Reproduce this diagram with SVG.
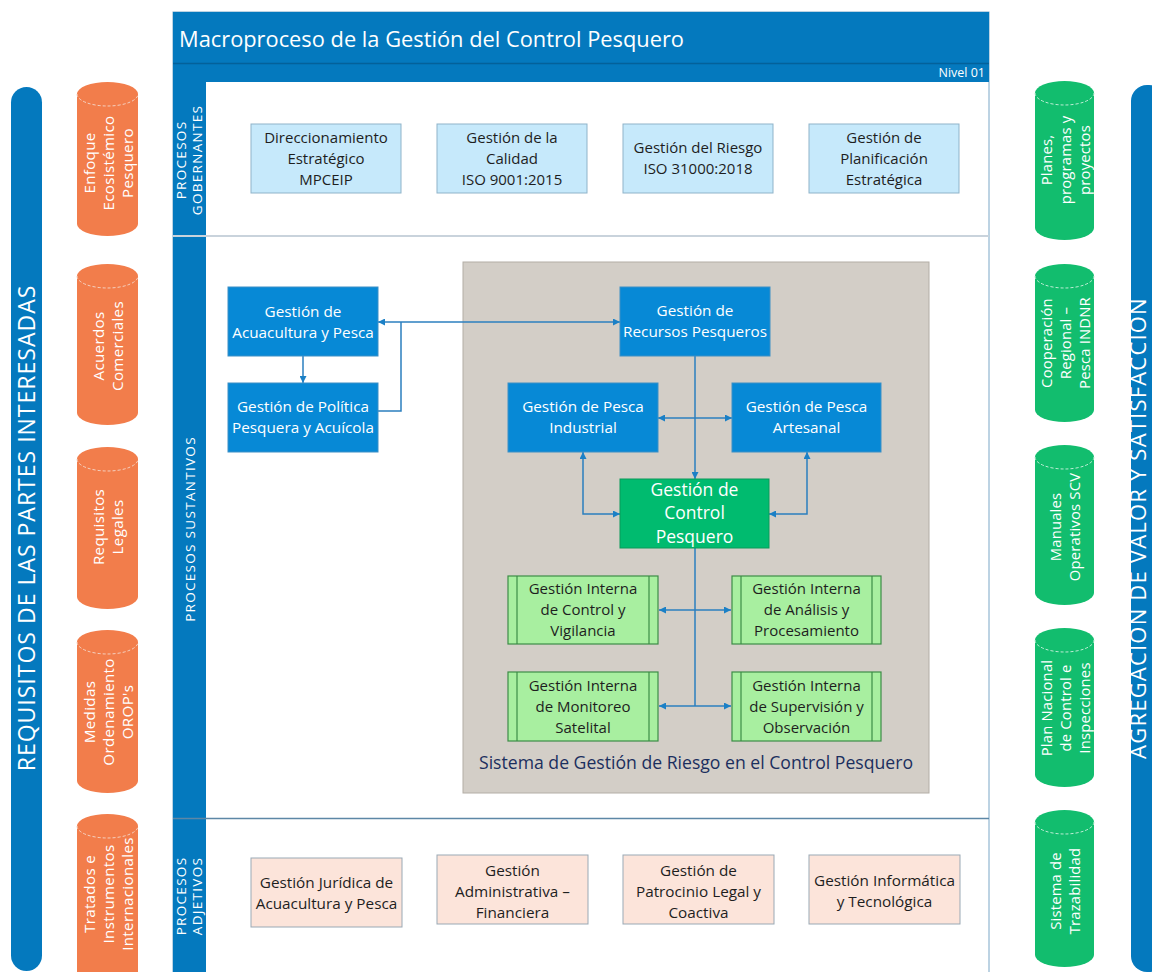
<svg xmlns="http://www.w3.org/2000/svg" width="1152" height="972" viewBox="0 0 1152 972">
<style>
text{font-family:"Open Sans","Noto Sans","DejaVu Sans",sans-serif}
.w{fill:#fff}
.d{fill:#1e1e1e}
.t15{font-size:15px}
.tb{font-size:15.3px}
.mid{text-anchor:middle}
.lc{font-size:15.2px;letter-spacing:0.3px}
.rc{font-size:14.8px;letter-spacing:0.2px}
.band{fill:#0479BE}
.ocyl{fill:#F27D4B}
.gcyl{fill:#12BD6E}
.cdash{fill:none;stroke:#f5d2c2;stroke-width:1;stroke-dasharray:3 2}
.gdash{fill:none;stroke:#bfeed6;stroke-width:1;stroke-dasharray:3 2}
.gov{fill:#C6E9FB;stroke:#8fb3c9;stroke-width:1}
.adj{fill:#FCE4DA;stroke:#9aa9b5;stroke-width:1}
.blue{fill:#0789D6;stroke:#3d8fc6;stroke-width:1}
.green{fill:#00BB6F;stroke:#0a9a5a;stroke-width:1}
.sub{fill:#A8EFA0;stroke:#3C8C46;stroke-width:1.2}
.subl{stroke:#3C8C46;stroke-width:1.2}
.con{fill:none;stroke:#2B7FBF;stroke-width:1.5}
.stripe{font-size:13.5px;fill:#fff;letter-spacing:1.3px;text-anchor:middle}
</style>
<defs>
<marker id="ah" viewBox="0 0 10 10" refX="10" refY="5" markerWidth="7" markerHeight="7" orient="auto-start-reverse" markerUnits="userSpaceOnUse">
<path d="M0,0 L10,5 L0,10 Z" fill="#1B80C6"/>
</marker>
</defs>
<rect width="1152" height="972" fill="#fff"/>

<!-- left and right bands -->
<g id="left-band">
<rect x="11" y="87" width="31" height="884" rx="15.5" class="band"/>
<text transform="translate(35,528) rotate(-90)" class="w mid" font-size="23" letter-spacing="1">REQUISITOS DE LAS PARTES INTERESADAS</text>
</g>
<g id="right-band">
<rect x="1131" y="85" width="34" height="887" rx="16" class="band"/>
<text transform="translate(1146,528) rotate(-90)" class="w mid" font-size="22" letter-spacing="1.2">AGREGACIÓN DE VALOR Y SATISFACCIÓN</text>
</g>

<!-- left cylinders -->
<g id="cyl-l1">
<path d="M77,94 A30.5,12 0 0 1 138,94 L138,224 A30.5,12 0 0 1 77,224 Z" class="ocyl"/>
<path d="M77,94 A30.5,12 0 0 0 138,94" class="cdash"/>
<text transform="translate(107.5,163) rotate(-90)" class="w mid lc"><tspan x="0" y="-13">Enfoque</tspan><tspan x="0" y="6">Ecosistémico</tspan><tspan x="0" y="25">Pesquero</tspan></text>
</g>
<g id="cyl-l2">
<path d="M77,276 A30.5,12 0 0 1 138,276 L138,413 A30.5,12 0 0 1 77,413 Z" class="ocyl"/>
<path d="M77,276 A30.5,12 0 0 0 138,276" class="cdash"/>
<text transform="translate(107.5,346) rotate(-90)" class="w mid lc"><tspan x="0" y="-4">Acuerdos</tspan><tspan x="0" y="15">Comerciales</tspan></text>
</g>
<g id="cyl-l3">
<path d="M77,459 A30.5,12 0 0 1 138,459 L138,597 A30.5,12 0 0 1 77,597 Z" class="ocyl"/>
<path d="M77,459 A30.5,12 0 0 0 138,459" class="cdash"/>
<text transform="translate(107.5,527) rotate(-90)" class="w mid lc"><tspan x="0" y="-4">Requisitos</tspan><tspan x="0" y="15">Legales</tspan></text>
</g>
<g id="cyl-l4">
<path d="M77,642 A30.5,12 0 0 1 138,642 L138,781 A30.5,12 0 0 1 77,781 Z" class="ocyl"/>
<path d="M77,642 A30.5,12 0 0 0 138,642" class="cdash"/>
<text transform="translate(107.5,712) rotate(-90)" class="w mid lc"><tspan x="0" y="-13">Medidas</tspan><tspan x="0" y="6">Ordenamiento</tspan><tspan x="0" y="25">OROP's</tspan></text>
</g>
<g id="cyl-l5">
<path d="M77,826 A30.5,12 0 0 1 138,826 L138,972 L77,972 Z" class="ocyl"/>
<path d="M77,826 A30.5,12 0 0 0 138,826" class="cdash"/>
<text transform="translate(107.5,894) rotate(-90)" class="w mid lc"><tspan x="0" y="-13">Tratados e</tspan><tspan x="0" y="6">Instrumentos</tspan><tspan x="0" y="25">Internacionales</tspan></text>
</g>

<!-- right cylinders -->
<g id="cyl-r1">
<path d="M1035,93 A29.5,12 0 0 1 1094,93 L1094,228 A29.5,12 0 0 1 1035,228 Z" class="gcyl"/>
<path d="M1035,93 A29.5,12 0 0 0 1094,93" class="gdash"/>
<text transform="translate(1064.5,160) rotate(-90)" class="w mid rc"><tspan x="0" y="-13">Planes,</tspan><tspan x="0" y="6">programas y</tspan><tspan x="0" y="25">proyectos</tspan></text>
</g>
<g id="cyl-r2">
<path d="M1035,276 A29.5,12 0 0 1 1094,276 L1094,410 A29.5,12 0 0 1 1035,410 Z" class="gcyl"/>
<path d="M1035,276 A29.5,12 0 0 0 1094,276" class="gdash"/>
<text transform="translate(1064.5,343) rotate(-90)" class="w mid rc"><tspan x="0" y="-13">Cooperación</tspan><tspan x="0" y="6">Regional –</tspan><tspan x="0" y="25">Pesca INDNR</tspan></text>
</g>
<g id="cyl-r3">
<path d="M1035,457 A29.5,12 0 0 1 1094,457 L1094,593 A29.5,12 0 0 1 1035,593 Z" class="gcyl"/>
<path d="M1035,457 A29.5,12 0 0 0 1094,457" class="gdash"/>
<text transform="translate(1064.5,527) rotate(-90)" class="w mid rc"><tspan x="0" y="-4">Manuales</tspan><tspan x="0" y="15">Operativos SCV</tspan></text>
</g>
<g id="cyl-r4">
<path d="M1035,640 A29.5,12 0 0 1 1094,640 L1094,775 A29.5,12 0 0 1 1035,775 Z" class="gcyl"/>
<path d="M1035,640 A29.5,12 0 0 0 1094,640" class="gdash"/>
<text transform="translate(1064.5,708) rotate(-90)" class="w mid rc"><tspan x="0" y="-13">Plan Nacional</tspan><tspan x="0" y="6">de Control e</tspan><tspan x="0" y="25">Inspecciones</tspan></text>
</g>
<g id="cyl-r5">
<path d="M1035,822 A29.5,12 0 0 1 1094,822 L1094,955 A29.5,12 0 0 1 1035,955 Z" class="gcyl"/>
<path d="M1035,822 A29.5,12 0 0 0 1094,822" class="gdash"/>
<text transform="translate(1064.5,891) rotate(-90)" class="w mid rc"><tspan x="0" y="-4">Sistema de</tspan><tspan x="0" y="15">Trazabilidad</tspan></text>
</g>

<!-- main frame -->
<g id="frame">
<rect x="173" y="12" width="816" height="962" fill="#fff" stroke="#7aa7c7" stroke-width="1"/>
<rect x="173" y="12" width="816" height="70" class="band"/>
<line x1="173" y1="63.5" x2="989" y2="63.5" stroke="#03619a" stroke-width="1.5"/>
<text x="179" y="47" class="w" font-size="22" textLength="505" lengthAdjust="spacingAndGlyphs">Macroproceso de la Gestión del Control Pesquero</text>
<text x="985" y="77" class="w" font-size="12.5" text-anchor="end">Nivel  01</text>
<rect x="173" y="82" width="33" height="890" class="band"/>
<line x1="173" y1="236" x2="989" y2="236" stroke="#c9d3dc" stroke-width="2"/>
<line x1="173" y1="818.5" x2="989" y2="818.5" stroke="#5d87a6" stroke-width="1.5"/>
<text transform="translate(186,160) rotate(-90)" class="stripe">PROCESOS</text>
<text transform="translate(202,160) rotate(-90)" class="stripe">GOBERNANTES</text>
<text transform="translate(195,529) rotate(-90)" class="stripe">PROCESOS SUSTANTIVOS</text>
<text transform="translate(186,896) rotate(-90)" class="stripe">PROCESOS</text>
<text transform="translate(202,896) rotate(-90)" class="stripe">ADJETIVOS</text>
</g>

<!-- governing -->
<g id="gov1"><rect x="251" y="124" width="150" height="69" class="gov"/>
<text class="d t15 mid"><tspan x="326" y="143">Direccionamiento</tspan><tspan x="326" y="164">Estratégico</tspan><tspan x="326" y="185">MPCEIP</tspan></text></g>
<g id="gov2"><rect x="437" y="124" width="150" height="69" class="gov"/>
<text class="d t15 mid"><tspan x="512" y="143">Gestión de la</tspan><tspan x="512" y="164">Calidad</tspan><tspan x="512" y="185">ISO 9001:2015</tspan></text></g>
<g id="gov3"><rect x="623" y="124" width="150" height="69" class="gov"/>
<text class="d t15 mid"><tspan x="698" y="153">Gestión del Riesgo</tspan><tspan x="698" y="174">ISO 31000:2018</tspan></text></g>
<g id="gov4"><rect x="809" y="124" width="150" height="69" class="gov"/>
<text class="d t15 mid"><tspan x="884" y="143">Gestión de</tspan><tspan x="884" y="164">Planificación</tspan><tspan x="884" y="185">Estratégica</tspan></text></g>

<!-- adjective -->
<g id="adj1"><rect x="251" y="858" width="151" height="69" class="adj"/>
<text class="d tb mid"><tspan x="326.5" y="888">Gestión Jurídica de</tspan><tspan x="326.5" y="909">Acuacultura y Pesca</tspan></text></g>
<g id="adj2"><rect x="437" y="855" width="151" height="69" class="adj"/>
<text class="d tb mid"><tspan x="512.5" y="876">Gestión</tspan><tspan x="512.5" y="897">Administrativa –</tspan><tspan x="512.5" y="918">Financiera</tspan></text></g>
<g id="adj3"><rect x="623" y="855" width="151" height="69" class="adj"/>
<text class="d tb mid"><tspan x="698.5" y="876">Gestión de</tspan><tspan x="698.5" y="897">Patrocinio Legal y</tspan><tspan x="698.5" y="918">Coactiva</tspan></text></g>
<g id="adj4"><rect x="809" y="855" width="151" height="69" class="adj"/>
<text class="d tb mid"><tspan x="884.5" y="886">Gestión Informática</tspan><tspan x="884.5" y="907">y Tecnológica</tspan></text></g>

<!-- risk system area -->
<g id="risk-system">
<rect x="463" y="262" width="466" height="531" fill="#D3CEC7" stroke="#b3aea6" stroke-width="1"/>
<text x="696" y="769" class="mid" font-size="17.5" font-weight="500" fill="#1B2F5E" textLength="434" lengthAdjust="spacingAndGlyphs">Sistema de Gestión de Riesgo en el Control Pesquero</text>
</g>

<!-- connectors -->
<g id="connectors">
<path d="M303,356 L303,383" class="con" marker-end="url(#ah)"/>
<path d="M378,411 L401,411 L401,322" class="con"/>
<path d="M378,322 L620,322" class="con" marker-start="url(#ah)" marker-end="url(#ah)"/>
<path d="M695,356 L695,479" class="con" marker-end="url(#ah)"/>
<path d="M658,418 L732,418" class="con" marker-start="url(#ah)" marker-end="url(#ah)"/>
<path d="M583,452 L583,514 L620,514" class="con" marker-start="url(#ah)" marker-end="url(#ah)"/>
<path d="M807,452 L807,514 L769,514" class="con" marker-start="url(#ah)" marker-end="url(#ah)"/>
<path d="M695,548 L695,706" class="con"/>
<path d="M659,610 L731,610" class="con" marker-start="url(#ah)" marker-end="url(#ah)"/>
<path d="M659,706 L731,706" class="con" marker-start="url(#ah)" marker-end="url(#ah)"/>
</g>

<!-- substantive nodes -->
<g id="acuacultura"><rect x="228" y="287" width="150" height="69" class="blue"/>
<text class="w tb mid"><tspan x="303" y="317">Gestión de</tspan><tspan x="303" y="338">Acuacultura y Pesca</tspan></text></g>
<g id="politica"><rect x="228" y="383" width="150" height="69" class="blue"/>
<text class="w tb mid"><tspan x="303" y="412">Gestión de Política</tspan><tspan x="303" y="433">Pesquera y Acuícola</tspan></text></g>
<g id="recursos"><rect x="620" y="287" width="150" height="69" class="blue"/>
<text class="w tb mid"><tspan x="695" y="316">Gestión de</tspan><tspan x="695" y="337">Recursos Pesqueros</tspan></text></g>
<g id="industrial"><rect x="508" y="383" width="150" height="69" class="blue"/>
<text class="w tb mid"><tspan x="583" y="412">Gestión de Pesca</tspan><tspan x="583" y="433">Industrial</tspan></text></g>
<g id="artesanal"><rect x="732" y="383" width="149" height="69" class="blue"/>
<text class="w tb mid"><tspan x="806.5" y="412">Gestión de Pesca</tspan><tspan x="806.5" y="433">Artesanal</tspan></text></g>
<g id="control"><rect x="620" y="479" width="149" height="69" class="green"/>
<text class="w mid" font-size="17.5"><tspan x="694.5" y="496">Gestión de</tspan><tspan x="694.5" y="519">Control</tspan><tspan x="694.5" y="543">Pesquero</tspan></text></g>

<g id="gi-control"><rect x="508" y="576" width="150" height="68" class="sub"/>
<line x1="517" y1="576" x2="517" y2="644" class="subl"/><line x1="649" y1="576" x2="649" y2="644" class="subl"/>
<text class="d t15 mid"><tspan x="583" y="594">Gestión Interna</tspan><tspan x="583" y="615">de Control y</tspan><tspan x="583" y="636">Vigilancia</tspan></text></g>
<g id="gi-analisis"><rect x="732" y="576" width="149" height="68" class="sub"/>
<line x1="741" y1="576" x2="741" y2="644" class="subl"/><line x1="872" y1="576" x2="872" y2="644" class="subl"/>
<text class="d t15 mid"><tspan x="806.5" y="594">Gestión Interna</tspan><tspan x="806.5" y="615">de Análisis y</tspan><tspan x="806.5" y="636">Procesamiento</tspan></text></g>
<g id="gi-monitoreo"><rect x="508" y="672" width="150" height="69" class="sub"/>
<line x1="517" y1="672" x2="517" y2="741" class="subl"/><line x1="649" y1="672" x2="649" y2="741" class="subl"/>
<text class="d t15 mid"><tspan x="583" y="691">Gestión Interna</tspan><tspan x="583" y="712">de Monitoreo</tspan><tspan x="583" y="733">Satelital</tspan></text></g>
<g id="gi-supervision"><rect x="732" y="672" width="149" height="69" class="sub"/>
<line x1="741" y1="672" x2="741" y2="741" class="subl"/><line x1="872" y1="672" x2="872" y2="741" class="subl"/>
<text class="d t15 mid"><tspan x="806.5" y="691">Gestión Interna</tspan><tspan x="806.5" y="712">de Supervisión y</tspan><tspan x="806.5" y="733">Observación</tspan></text></g>
</svg>
